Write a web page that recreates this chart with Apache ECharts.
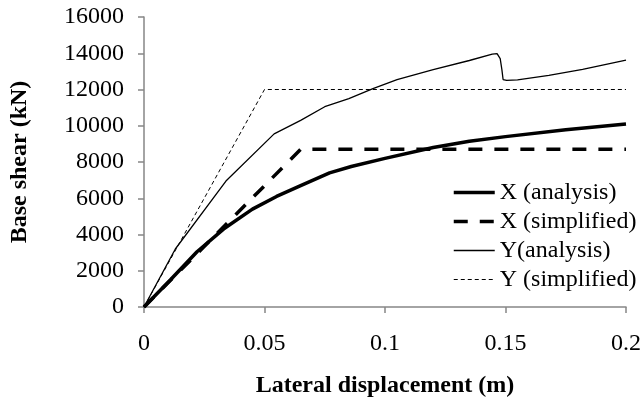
<!DOCTYPE html>
<html>
<head>
<meta charset="utf-8">
<script src="https://cdn.jsdelivr.net/npm/echarts@6/dist/echarts.min.js"></script>
<style>
html,body{margin:0;padding:0;background:#fff;}
#c{width:644px;height:403px;}
</style>
</head>
<body>
<div id="c"></div>
<script>
var xAnalysis = [[0,0],[0.011,1500],[0.022,3050],[0.033,4300],[0.045,5400],[0.055,6100],[0.065,6700],[0.077,7400],[0.086,7750],[0.1,8200],[0.12,8800],[0.135,9150],[0.15,9400],[0.175,9780],[0.2,10100]];
var xSimplified = [[0,0],[0.065,8700],[0.2,8700]];
var yAnalysis = [[0,0],[0.013,3200],[0.034,6950],[0.054,9550],[0.065,10300],[0.075,11050],[0.085,11500],[0.095,12050],[0.105,12550],[0.12,13100],[0.135,13600],[0.1445,13950],[0.1465,13980],[0.1478,13700],[0.1485,13100],[0.149,12550],[0.1505,12500],[0.155,12530],[0.168,12780],[0.182,13110],[0.2,13620]];
var ySimplified = [[0,0],[0.05,12000],[0.2,12000]];
var seriesNames = ['X (analysis)','X (simplified)','Y(analysis)','Y (simplified)'];
var xTicks = [0,0.05,0.1,0.15,0.2];
var yTicks = [0,2000,4000,6000,8000,10000,12000,14000,16000];

var FONT = '"Liberation Serif","Times New Roman",serif';
var axisCol = '#868686';
var styles = [
  {color:'#000',width:3.5,type:'solid'},
  {color:'#000',width:3.5,type:[14,12]},
  {color:'#000',width:1.3,type:'solid'},
  {color:'#000',width:1,type:[4,3]}
];
var datasets = [xAnalysis,xSimplified,yAnalysis,ySimplified];
var chart = echarts.init(document.getElementById('c'), null, {renderer:'canvas'});
chart.setOption({
  animation:false,
  backgroundColor:'#fff',
  color:['#000','#000','#000','#000'],
  grid:{left:143,right:17,top:17,bottom:93,containLabel:false},
  legend:{
    orient:'vertical', left:452, top:178, padding:0,
    itemWidth:41, itemHeight:14, itemGap:0,
    itemStyle:{opacity:0},
    textStyle:{fontFamily:FONT,fontSize:24,color:'#000',lineHeight:29},
    data:seriesNames.map(function(n,i){
      return {name:n, itemStyle:{opacity:0}, lineStyle:{color:'#000',width:styles[i].width,type:styles[i].type}};
    })
  },
  xAxis:{
    type:'value', min:xTicks[0], max:xTicks[xTicks.length-1], interval:0.05,
    name:'Lateral displacement (m)', nameLocation:'middle', nameGap:67,
    nameTextStyle:{fontFamily:FONT,fontSize:24,fontWeight:'bold',color:'#000'},
    axisLine:{show:true,lineStyle:{color:axisCol,width:1.5}},
    axisTick:{show:true,inside:false,length:6,lineStyle:{color:axisCol,width:1.5}},
    axisLabel:{fontFamily:FONT,fontSize:24,color:'#000',margin:25,formatter:function(v){return String(v);}},
    splitLine:{show:false}
  },
  yAxis:{
    type:'value', min:yTicks[0], max:yTicks[yTicks.length-1], interval:2000,
    name:'Base shear (kN)', nameLocation:'middle', nameGap:112, nameRotate:90,
    nameTextStyle:{fontFamily:FONT,fontSize:24,fontWeight:'bold',color:'#000'},
    axisLine:{show:true,lineStyle:{color:axisCol,width:1.5}},
    axisTick:{show:true,inside:false,length:6,lineStyle:{color:axisCol,width:1.5}},
    axisLabel:{fontFamily:FONT,fontSize:24,color:'#000',margin:20,formatter:function(v){return String(v);}},
    splitLine:{show:false}
  },
  series:seriesNames.map(function(n,i){
    return {name:n,type:'line',data:datasets[i],symbol:'none',z:4-i,
      itemStyle:{color:'#000'},lineStyle:styles[i]};
  })
});
</script>
</body>
</html>
